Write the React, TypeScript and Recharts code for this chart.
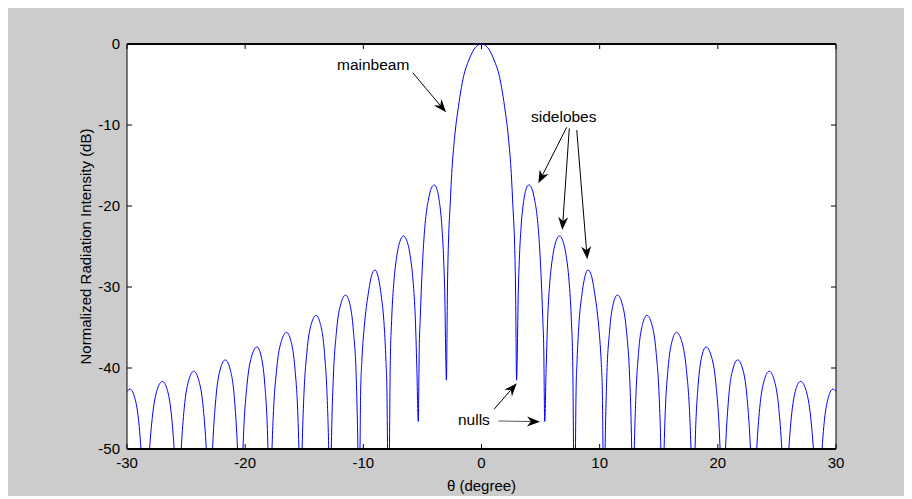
import React from "react";
import {
  CartesianGrid,
  Line,
  LineChart,
  ReferenceDot,
  ReferenceLine,
  XAxis,
  YAxis,
} from "recharts";

const xTicks = [-30, -20, -10, 0, 10, 20, 30];
const yTicks = [-50, -40, -30, -20, -10, 0];

// [theta (deg), intensity (dB)]. Nulls that fall out of view get -60.
const leftLobes: [number, number][] = [
  [-30, -42.9], [-29.75, -42.6], [-29.36, -43.6], [-28.97, -47.2], [-28.82, -50], [-28.45, -60],
  [-28.09, -50], [-27.87, -46.25], [-27.44, -42.65], [-27.0, -41.65], [-26.6, -42.65], [-26.21, -46.25], [-26.01, -50], [-25.68, -60],
  [-25.41, -50], [-25.16, -45.0], [-24.75, -41.4], [-24.35, -40.4], [-23.95, -41.4], [-23.54, -45.0], [-23.29, -50], [-23.0, -60],
  [-22.76, -50], [-22.47, -43.6], [-22.08, -40.0], [-21.68, -39.0], [-21.3, -40.0], [-20.92, -43.6], [-20.65, -50], [-20.42, -60],
  [-20.19, -50], [-20.12, -47.6], [-19.84, -42.0], [-19.42, -38.4], [-19.0, -37.4], [-18.67, -38.4], [-18.34, -42.0], [-18.12, -47.6], [-18.07, -50], [-17.9, -60],
  [-17.73, -50], [-17.62, -45.8], [-17.34, -40.2], [-16.92, -36.6], [-16.5, -35.6], [-16.14, -36.6], [-15.78, -40.2], [-15.54, -45.8], [-15.45, -50], [-15.3, -60],
  [-15.18, -50], [-15.04, -43.7], [-14.78, -38.1], [-14.39, -34.5], [-14.0, -33.5], [-13.65, -34.5], [-13.29, -38.1], [-13.06, -43.7], [-12.93, -50], [-12.82, -60],
  [-12.71, -50], [-12.67, -47.1], [-12.54, -41.2], [-12.28, -35.6], [-11.89, -32.0], [-11.5, -31.0], [-11.16, -32.0], [-10.83, -35.6], [-10.6, -41.2], [-10.46, -50], [-10.37, -60],
  [-10.28, -50], [-10.23, -43.1], [-10.12, -39.0], [-9.92, -34.9], [-9.58, -30.8], [-9.3, -28.6], [-9.02, -27.9], [-8.77, -28.6], [-8.51, -30.8], [-8.23, -34.9], [-8.09, -39.0], [-8.0, -43.1], [-7.95, -50], [-7.85, -60],
  [-7.79, -50], [-7.725, -39.8], [-7.6, -33.9], [-7.41, -29.3], [-7.16, -26.1], [-6.91, -24.4], [-6.6, -23.7], [-6.29, -24.4], [-6.04, -26.1], [-5.79, -29.3], [-5.6, -33.9], [-5.475, -39.8], [-5.35, -46.6],
  [-5.27, -37.8], [-5.18, -33.7], [-5.07, -29.5], [-4.93, -25.4], [-4.71, -21.3], [-4.5, -19.3], [-4.25, -17.8], [-4.0, -17.4], [-3.8, -17.8], [-3.58, -19.3], [-3.35, -22.6], [-3.2, -26.7], [-3.1, -31.5], [-3.02, -39.0], [-2.97, -41.5],
];

const mainBeam: [number, number][] = [
  [-2.88, -30], [-2.79, -24.2], [-2.66, -20.1], [-2.52, -16], [-2.3, -11.9], [-1.95, -7.7], [-1.45, -3.6], [-1.18, -2.4], [-0.96, -1.6], [-0.5, -0.4],
  [0, 0],
  [0.5, -0.4], [0.96, -1.6], [1.18, -2.4], [1.45, -3.6], [1.95, -7.7], [2.3, -11.9], [2.52, -16], [2.66, -20.1], [2.79, -24.2], [2.88, -30],
];

const rightLobes: [number, number][] = [
  [2.97, -41.5], [3.02, -39.0], [3.1, -31.5], [3.2, -26.7], [3.35, -22.6], [3.58, -19.3], [3.8, -17.8], [4.0, -17.4], [4.25, -17.8], [4.5, -19.3], [4.71, -21.3], [4.93, -25.4], [5.07, -29.5], [5.18, -33.7], [5.27, -37.8],
  [5.35, -46.6], [5.475, -39.8], [5.6, -33.9], [5.79, -29.3], [6.04, -26.1], [6.29, -24.4], [6.6, -23.7], [6.91, -24.4], [7.16, -26.1], [7.41, -29.3], [7.6, -33.9], [7.725, -39.8], [7.79, -50],
  [7.85, -60], [7.95, -50], [8.0, -43.1], [8.09, -39.0], [8.23, -34.9], [8.51, -30.8], [8.77, -28.6], [9.02, -27.9], [9.3, -28.6], [9.58, -30.8], [9.92, -34.9], [10.12, -39.0], [10.23, -43.1], [10.28, -50],
  [10.37, -60], [10.46, -50], [10.6, -41.2], [10.83, -35.6], [11.16, -32.0], [11.5, -31.0], [11.89, -32.0], [12.28, -35.6], [12.54, -41.2], [12.67, -47.1], [12.71, -50],
  [12.82, -60], [12.93, -50], [13.06, -43.7], [13.29, -38.1], [13.65, -34.5], [14.0, -33.5], [14.39, -34.5], [14.78, -38.1], [15.04, -43.7], [15.18, -50],
  [15.3, -60], [15.45, -50], [15.54, -45.8], [15.78, -40.2], [16.14, -36.6], [16.5, -35.6], [16.92, -36.6], [17.34, -40.2], [17.62, -45.8], [17.73, -50],
  [17.9, -60], [18.07, -50], [18.12, -47.6], [18.34, -42.0], [18.67, -38.4], [19.0, -37.4], [19.42, -38.4], [19.84, -42.0], [20.12, -47.6], [20.19, -50],
  [20.42, -60], [20.65, -50], [20.92, -43.6], [21.3, -40.0], [21.68, -39.0], [22.08, -40.0], [22.47, -43.6], [22.76, -50],
  [23.0, -60], [23.29, -50], [23.54, -45.0], [23.95, -41.4], [24.35, -40.4], [24.75, -41.4], [25.16, -45.0], [25.41, -50],
  [25.68, -60], [26.01, -50], [26.21, -46.25], [26.6, -42.65], [27.0, -41.65], [27.44, -42.65], [27.87, -46.25], [28.09, -50],
  [28.45, -60], [28.82, -50], [28.97, -47.2], [29.36, -43.6], [29.75, -42.6], [30, -42.9],
];

// annotation text, placed at [theta, dB] of its left edge
const notes: { text: string; at: [number, number] }[] = [
  { text: "mainbeam", at: [-12.23, -2.47] },
  { text: "sidelobes", at: [4.19, -9.0] },
  { text: "nulls", at: [-1.99, -46.3] },
];

// arrows: tail -> tip, in data coordinates
const arrows: { from: [number, number]; to: [number, number]; color: string }[] = [
  { from: [-5.82, -3.54], to: [-3.0, -8.43], color: "#000" },
  { from: [7.21, -10.28], to: [4.81, -17.2], color: "#000" },
  { from: [7.43, -10.41], to: [6.84, -22.96], color: "#000" },
  { from: [8.06, -10.62], to: [8.95, -26.58], color: "#000" },
  { from: [1.06, -45.1], to: [2.98, -41.89], color: "#000" },
  { from: [1.42, -46.54], to: [4.95, -46.63], color: "#555" },
];

// inward tick length along the top edge, in dB
const topTickLen = 0.62;

const data = [...leftLobes, ...mainBeam, ...rightLobes].map(([theta, db]) => ({ theta, db }));

const arrowShape = (color: string) => (p: any) => {
  const { x1, y1, x2, y2 } = p;
  const dx = x2 - x1;
  const dy = y2 - y1;
  const len = Math.hypot(dx, dy) || 1;
  const ux = dx / len;
  const uy = dy / len;
  const nx = -uy;
  const ny = ux;
  const L = 13;
  const W = 5;
  const N = 4;
  const bx = x2 - ux * L;
  const by = y2 - uy * L;
  const mx = x2 - ux * (L - N);
  const my = y2 - uy * (L - N);
  return (
    <g>
      <line x1={x1} y1={y1} x2={mx} y2={my} stroke={color} strokeWidth={1} />
      <polygon
        points={`${x2},${y2} ${bx + nx * W},${by + ny * W} ${mx},${my} ${bx - nx * W},${by - ny * W}`}
        fill="#000"
      />
    </g>
  );
};

const noteShape = (text: string) => (p: any) => (
  <text x={p.cx} y={p.cy} dominantBaseline="central" fontSize={15.5} fill="#000">
    {text}
  </text>
);

const blank = () => "";

export default function App() {
  return (
    <div
      style={{
        width: 904,
        height: 488,
        background: "#cccccc",
        fontFamily: '"Liberation Sans", Arial, Helvetica, sans-serif',
      }}>
      <LineChart
        width={904}
        height={488}
        data={data}
        margin={{ top: 36, right: 75, bottom: 0, left: 37 }}>
        <CartesianGrid horizontal={false} vertical={false} fill="#ffffff" />
        <XAxis
          dataKey="theta"
          type="number"
          domain={[-30, 30]}
          ticks={xTicks}
          interval={0}
          allowDataOverflow
          height={47}
          tickSize={-5}
          tickMargin={13}
          axisLine={{ stroke: "#000", strokeWidth: 2 }}
          tickLine={{ stroke: "#000" }}
          tick={{ fill: "#000", fontSize: 15 }}
          label={{ value: "θ (degree)", position: "insideBottom", offset: 5, fill: "#000", fontSize: 15 }}
        />
        <YAxis
          type="number"
          domain={[-50, 0]}
          ticks={yTicks}
          interval={0}
          allowDataOverflow
          width={82}
          tickSize={-5}
          tickMargin={12}
          axisLine={{ stroke: "#000" }}
          tickLine={{ stroke: "#000" }}
          tick={{ fill: "#000", fontSize: 15 }}
          label={{
            value: "Normalized Radiation Intensity (dB)",
            angle: -90,
            position: "center",
            fill: "#000",
            fontSize: 15,
          }}
        />
        <YAxis
          yAxisId="right"
          orientation="right"
          type="number"
          domain={[-50, 0]}
          ticks={yTicks}
          interval={0}
          allowDataOverflow
          width={1}
          tickSize={-5}
          tickFormatter={blank}
          axisLine={{ stroke: "#000" }}
          tickLine={{ stroke: "#000" }}
        />
        <ReferenceLine y={0} stroke="#000" strokeWidth={2} />
        {xTicks.map((t) => (
          <ReferenceLine
            key={"t" + t}
            segment={[
              { x: t, y: 0 },
              { x: t, y: -topTickLen },
            ]}
            stroke="#000"
          />
        ))}
        <Line
          dataKey="db"
          type="monotoneX"
          stroke="#0000ff"
          strokeWidth={1}
          dot={false}
          activeDot={false}
          isAnimationActive={false}
        />
        {arrows.map((a, i) => (
          <ReferenceLine
            key={"a" + i}
            segment={[
              { x: a.from[0], y: a.from[1] },
              { x: a.to[0], y: a.to[1] },
            ]}
            shape={arrowShape(a.color)}
          />
        ))}
        {notes.map((n) => (
          <ReferenceDot key={n.text} x={n.at[0]} y={n.at[1]} r={1} shape={noteShape(n.text)} />
        ))}
      </LineChart>
    </div>
  );
}
